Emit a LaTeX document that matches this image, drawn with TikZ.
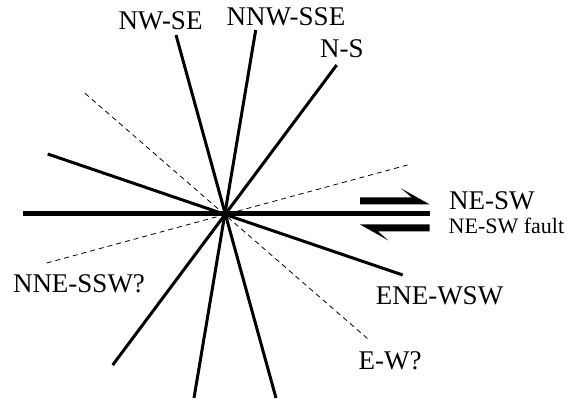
\documentclass[tikz,border=0pt]{standalone}
\usepackage{fontspec}
\setmainfont{Liberation Serif}
\begin{document}
\begin{tikzpicture}[x=1pt,y=-1pt,
  trace/.style={line width=3pt},
  mainfault/.style={line width=5pt},
  inferred/.style={line width=0.8pt, dash pattern=on 5pt off 4pt},
  harpoon/.style={fill=black, draw=none},
  lbl/.style={inner sep=0pt, anchor=base, font=\fontsize{27}{32}\selectfont},
  sublbl/.style={inner sep=0pt, anchor=base west, font=\fontsize{22}{26}\selectfont}]
\useasboundingbox (0,0) rectangle (579,403);

% end points of the fault traces
\coordinate (ew-w)   at (23,214);
\coordinate (ew-e)   at (430,214);
\coordinate (ene-w)  at (47.7,154);
\coordinate (ene-e)  at (402.7,275);
\coordinate (ns-n)   at (336.7,65);
\coordinate (ns-s)   at (112.7,365);
\coordinate (nnw-n)  at (255.7,30);
\coordinate (nnw-s)  at (194,398);
\coordinate (nw-n)   at (176,35);
\coordinate (nw-s)   at (276,398);
\coordinate (dnw-n)  at (85,93.3);
\coordinate (dnw-s)  at (368,339);
\coordinate (dne-w)  at (46.7,263);
\coordinate (dne-e)  at (410,164.3);

% inferred (dashed) traces
\draw[inferred] (dnw-n) -- (dnw-s);
\draw[inferred] (dne-w) -- (dne-e);

% mapped traces
\draw[trace] (ene-w) -- (ene-e);
\draw[trace] (ns-n) -- (ns-s);
\draw[trace] (nnw-n) -- (nnw-s);
\draw[trace] (nw-n) -- (nw-s);
\draw[mainfault] (ew-w) -- (ew-e);

% sense of slip on the main fault
\fill[harpoon] (360,197.3) -- (411.5,197.3) -- (401,188.3) -- (429.5,204.3) -- (360,204.3) -- cycle;
\fill[harpoon] (429.5,231.5) -- (378,231.5) -- (388.5,240.5) -- (360,224.5) -- (429.5,224.5) -- cycle;

% labels
\node[lbl] (l-nwse)  at (160.5,29.3) {NW-SE};
\node[lbl] (l-nnwsse) at (286,26) {NNW-SSE};
\node[lbl] (l-ns)    at (342,57.3) {N-S};
\node[lbl, anchor=base west] (l-nesw) at (449,210) {NE-SW};
\node[sublbl] (l-fault) at (448.5,233.3) {NE-SW fault};
\node[lbl] (l-nnessw) at (79,292.7) {NNE-SSW?};
\node[lbl] (l-enewsw) at (439.5,305) {ENE-WSW};
\node[lbl] (l-ew)    at (390,370) {E-W?};
\end{tikzpicture}
\end{document}
